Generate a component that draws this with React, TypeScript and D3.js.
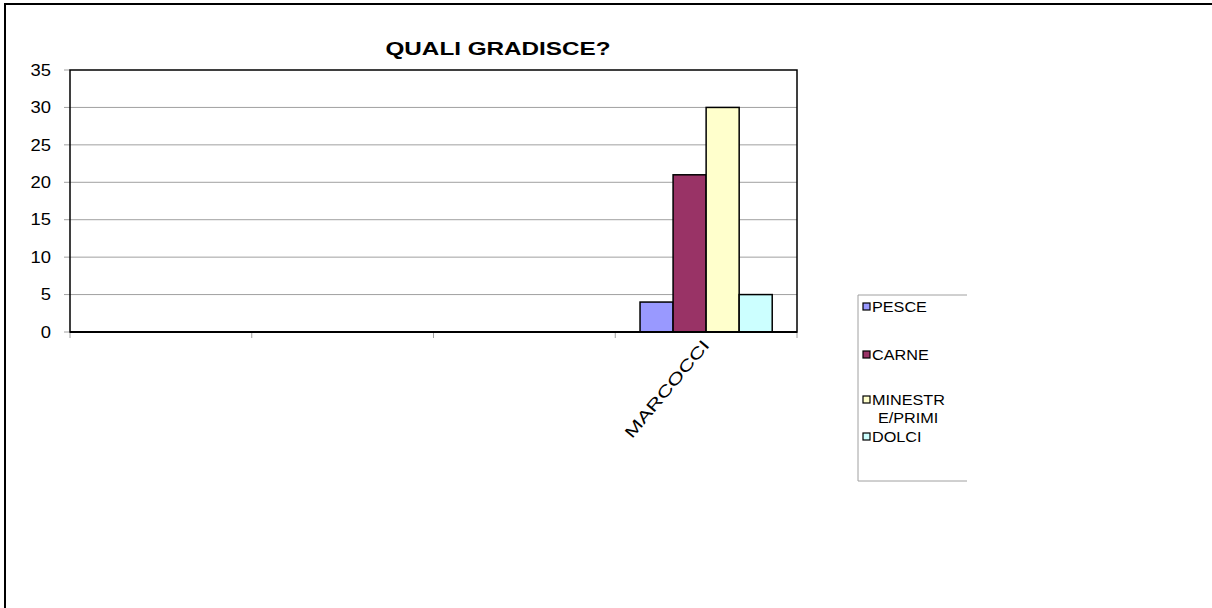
import React, { useEffect, useRef } from 'react';
import * as d3 from 'd3';

const categories = ['', '', '', 'MARCOCCI'];
const seriesNames = ['PESCE', 'CARNE', 'MINESTRE/PRIMI', 'DOLCI'];
const seriesColors = ['#9999FF', '#993366', '#FFFFCC', '#CCFFFF'];
// values per series, one per category (null = no data)
const pesce = [null, null, null, 4];
const carne = [null, null, null, 21];
const minestre = [null, null, null, 30];
const dolci = [null, null, null, 5];
const yTicks = [0, 5, 10, 15, 20, 25, 30, 35];

const App = () => {
  const ref = useRef<SVGSVGElement>(null);

  useEffect(() => {
    const width = 1212;
    const height = 608;
    const font = 'Liberation Sans, Arial, sans-serif';
    const svg = d3.select(ref.current);
    svg.selectAll('*').remove();
    svg.attr('width', width).attr('height', height);

    svg.append('rect').attr('width', width).attr('height', height).attr('fill', '#fff');

    // outer chart border (right/bottom fall outside the view)
    svg.append('rect')
      .attr('x', 5).attr('y', 4)
      .attr('width', 1300).attr('height', 700)
      .attr('fill', 'none').attr('stroke', '#000').attr('stroke-width', 2);

    const left = 70, top = 70, right = 797, bottom = 332;

    const x0 = d3.scaleBand().domain(d3.range(categories.length).map(String))
      .range([left, right]);
    const x1 = d3.scaleBand().domain(seriesNames)
      .range([0, x0.bandwidth()]).paddingOuter(0.75);
    const y = d3.scaleLinear().domain([0, 35]).range([bottom, top]);

    // gridlines
    svg.append('g').selectAll('line').data(yTicks.filter(t => t > 0 && t < 35)).enter()
      .append('line')
      .attr('x1', left).attr('x2', right)
      .attr('y1', d => y(d)).attr('y2', d => y(d))
      .attr('stroke', '#a0a0a0').attr('stroke-width', 1);

    // y ticks + labels
    const yg = svg.append('g');
    yg.selectAll('line').data(yTicks).enter().append('line')
      .attr('x1', left - 6).attr('x2', left)
      .attr('y1', d => y(d)).attr('y2', d => y(d))
      .attr('stroke', '#a0a0a0');
    yg.selectAll('text').data(yTicks).enter().append('text')
      .attr('transform', d => `translate(${left - 19},${y(d)}) scale(1.15,1)`)
      .attr('dy', '0.36em').attr('text-anchor', 'end')
      .attr('font-family', font).attr('font-size', 16)
      .text(d => d);

    // category ticks
    const catEdges = d3.range(categories.length + 1).map(i => left + i * x0.step());
    svg.append('g').selectAll('line').data(catEdges).enter().append('line')
      .attr('x1', d => d).attr('x2', d => d)
      .attr('y1', bottom).attr('y2', bottom + 6)
      .attr('stroke', '#a0a0a0');

    const series = [pesce, carne, minestre, dolci];
    series.forEach((vals, si) => {
      svg.append('g').selectAll('rect')
        .data(vals.map((v, ci) => ({ v, ci })).filter(d => d.v != null))
        .enter().append('rect')
        .attr('x', d => (x0(String(d.ci)) as number) + (x1(seriesNames[si]) as number))
        .attr('y', d => y(d.v as number))
        .attr('width', x1.bandwidth())
        .attr('height', d => bottom - y(d.v as number))
        .attr('fill', seriesColors[si])
        .attr('stroke', '#000').attr('stroke-width', 1.5);
    });

    // plot border
    svg.append('rect')
      .attr('x', left).attr('y', top)
      .attr('width', right - left).attr('height', bottom - top)
      .attr('fill', 'none').attr('stroke', '#000').attr('stroke-width', 1.5);
    svg.append('line')
      .attr('x1', left).attr('x2', right).attr('y1', bottom).attr('y2', bottom)
      .attr('stroke', '#000').attr('stroke-width', 2);

    // category labels rotated
    categories.forEach((c, i) => {
      if (!c) return;
      const cx = (x0(String(i)) as number) + x0.bandwidth() / 2;
      svg.append('text')
        .attr('transform', `translate(${cx - 5},${bottom + 6}) rotate(-50)`)
        .attr('text-anchor', 'end')
        .attr('dy', '0.75em')
        .attr('font-family', font).attr('font-size', 16)
        .attr('textLength', 122).attr('lengthAdjust', 'spacingAndGlyphs')
        .text(c);
    });

    // title
    svg.append('text')
      .attr('x', 498).attr('y', 55)
      .attr('text-anchor', 'middle')
      .attr('font-family', font).attr('font-size', 18).attr('font-weight', 'bold')
      .attr('textLength', 225).attr('lengthAdjust', 'spacingAndGlyphs')
      .text('QUALI GRADISCE?');

    // legend
    const lx = 858, ly = 295, lw = 109, lh = 186;
    const lg = svg.append('g');
    lg.append('path')
      .attr('d', `M${lx + lw},${ly}H${lx}V${ly + lh}H${lx + lw}`)
      .attr('fill', 'none').attr('stroke', '#a0a0a0');
    const itemY = [307, 355, 400, 437];
    const labelLines = [['PESCE'], ['CARNE'], ['MINESTR', 'E/PRIMI'], ['DOLCI']];
    seriesNames.forEach((n, i) => {
      lg.append('rect')
        .attr('x', lx + 5).attr('y', itemY[i] - 4)
        .attr('width', 7).attr('height', 7)
        .attr('fill', seriesColors[i]).attr('stroke', '#000').attr('stroke-width', 1.2);
      labelLines[i].forEach((t, k) => {
        lg.append('text')
          .attr('transform', `translate(${lx + 14 + (k ? 6 : 0)},${itemY[i] + k * 18}) scale(1.08,1)`)
          .attr('dy', '0.36em')
          .attr('font-family', font).attr('font-size', 15)
          .text(t);
      });
    });
  }, []);

  return <svg ref={ref} style={{ position: 'absolute', left: 0, top: 0 }} />;
};

export default App;
